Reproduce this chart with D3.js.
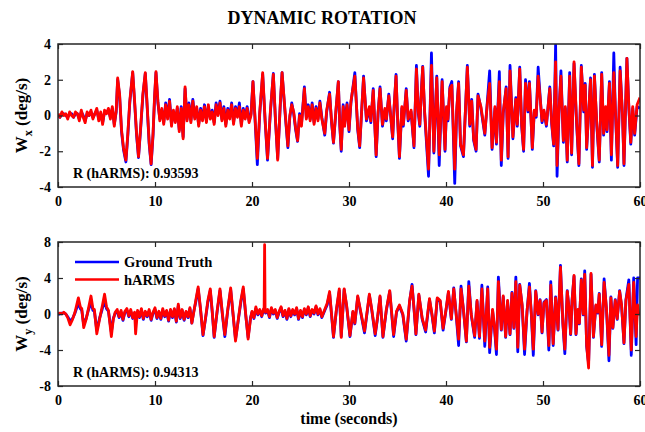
<!DOCTYPE html>
<html>
<head>
<meta charset="utf-8">
<script src="https://cdn.jsdelivr.net/npm/d3@7"></script>
<style>
  body { margin: 0; background: #fff; }
  text { font-family: "Liberation Serif", "Times New Roman", serif; font-weight: bold; fill: #000; }
</style>
</head>
<body>
<script>
// ---- Wx (top panel), seconds / deg/s ----
var wxTime = [
  0,0.2,0.4,0.6,0.8,1.0,1.2,1.4,1.6,1.8, 2.0,2.2,2.4,2.6,2.8,3.0,3.2,3.4,3.6,3.8, 4.0,4.2,4.4,4.6,4.8,5.0,5.2,5.4,5.6,5.8,
  6.0,6.15,6.35,6.55,6.75,7.0,7.2,7.4,7.7,7.9, 8.1,8.3,8.5,8.75,9.0,9.2,9.4,9.6,9.8,9.95, 10.1,10.3,10.5,
  10.7,10.9,11.1,11.3,11.5,11.7,11.9,12.1,12.3,12.5, 12.7,12.9,13.1,13.3,13.5,13.7,13.9,14.1,14.3,14.5,
  14.7,14.9,15.1,15.3,15.5,15.7,15.9,16.1,16.3,16.5, 16.7,16.9,17.1,17.3,17.5,17.7,17.9,18.1,18.3,18.5,
  18.7,18.9,19.1,19.3,19.5,19.7,19.9,
  20.1,20.3,20.55,20.8,21.1,21.35,21.6,21.9,22.2,22.4, 22.65,22.9,23.1,23.4,23.7,23.9,24.1,24.3,24.5,24.7,
  24.9,25.1,25.4,25.6,25.8,26.0,26.2,26.4,26.6,26.8, 27.0,27.2,27.5,27.7,28.0,28.2,28.4,28.65,28.9,29.05,
  29.2,29.4,29.55,29.8,
  30.0,30.2,30.6,30.9,31.1,31.5,31.8,32.1,32.25,32.5, 32.8,33.0,33.2,33.45,33.7,33.85,34.1,34.5,34.65,34.85,
  35.0,35.2,35.45,35.6,35.9,36.1,36.4,36.7,36.95,37.15, 37.3,37.45,37.6,37.8,38.2,38.5,38.75,38.85,39.05,39.3,
  39.6,39.9,40.05,40.2,40.4,40.6,40.9,41.1,41.3,41.5, 41.8,42.2,42.45,42.65,42.85,43.1,43.3,43.6,
  44.0,44.25,44.5,44.75,45.05,45.2,45.5,45.7,45.9,46.2, 46.4,46.6,46.9,47.2,47.35,47.6,47.8,48.0,48.2,48.45,
  48.6,48.9,49.1,49.3,49.5,49.7,49.9,50.1,50.35,50.7, 50.9,51.1,51.3,51.45,51.65,51.85,52.1,52.3,52.5,52.75,
  52.95,53.2,53.45,53.7,53.95,54.2,54.35,54.5,54.9,55.1, 55.3,55.55,55.8,56.05,56.25,56.45,56.6,56.85,57.05,57.3,
  57.45,57.7,57.95,58.2,58.35,58.65,58.85,59.05,59.25,59.45, 59.7,60.0
];
var wxTruth = [
  0.0,-0.1,0.1,0.1,0.0,-0.1,0.1,0.1,-0.1,0.1, 0.1,-0.2,0.2,0.0,-0.3,0.1,0.0,0.2,-0.1,0.1, 0.3,-0.2,0.1,-0.4,0.2,0.2,0.3,-0.1,0.4,-0.5,
  0.2,2.0,1.1,-0.9,-1.9,-2.6,-1.1,0.7,2.4,0.7, -1.1,-2.35,-0.9,1.1,2.35,0.4,-1.6,-2.75,-1.1,0.9, 2.4,0.7,-0.2,
  0.3,-0.4,0.7,-0.1,0.9,-0.5,0.2,-0.3,0.4,-0.8, 0.5,-1.2,1.5,-0.2,0.7,-0.3,0.9,-0.1,0.4,-0.5,
  0.4,-0.2,0.6,-0.3,0.5,-0.1,0.3,-0.4,0.7,0.1, 0.8,-0.2,0.5,-0.5,0.4,-0.1,0.7,-0.4,0.5,0.0,
  0.7,-0.5,0.4,-0.1,0.5,-0.3,0.1,
  1.9,-0.1,-2.75,0.1,2.3,-0.3,-2.5,0.2,2.35,-0.1, -2.4,0.4,2.4,0.2,-1.8,-0.1,0.7,0.1,-0.8,-1.45,
  0.1,-0.5,1.6,-0.1,0.6,-0.2,0.7,-0.4,0.5,-0.2, 0.8,-0.1,-1.1,0.2,1.3,-0.4,-1.55,0.2,1.9,-0.6,
  -2.0,0.6,-0.5,0.7,
  -0.9,0.7,2.4,-0.8,-1.8,2.2,-0.3,0.4,-0.4,1.5, -2.3,0.1,1.6,-0.6,0.3,-0.3,1.2,-1.3,0.4,2.3,
  -0.1,-2.4,0.4,-0.6,1.5,-0.3,0.2,-1.8,2.8,0.1, -0.6,1.3,2.75,0.1,-3.4,3.5,-2.1,-0.6,2.2,-2.8,
  2.0,-2.0,0.4,-0.3,1.6,1.9,-3.8,0.2,1.9,-1.7, -2.3,2.8,-0.6,0.9,-1.4,-2.0,1.2,0.4,
  -1.1,0.7,2.5,-1.9,0.4,-1.6,2.45,-2.8,0.1,1.6, -2.4,2.8,-1.3,1.0,-0.6,2.7,-0.6,-2.0,2.0,0.2,
  1.9,-1.9,0.2,-0.1,2.7,1.1,-0.4,0.2,-0.6,1.6, -0.5,-1.7,3.95,-3.4,0.2,2.5,-1.5,0.4,-2.6,2.4,
  -2.2,2.9,-0.3,-2.8,2.8,0.2,1.8,-1.9,2.1,-2.9, 2.3,-0.6,-2.6,2.4,-1.1,0.4,-0.9,1.9,-2.5,3.5,
  0.4,-2.9,2.7,-0.1,-2.8,3.2,0.4,-1.6,0.4,-1.1, 0.5,0.4
];
var wxHarms = [
  0.1,-0.1,0.2,0.0,0.1,-0.2,0.2,0.0,-0.1,0.2, 0.1,-0.3,0.3,-0.1,-0.4,0.2,0.0,0.3,-0.2,0.1, 0.4,-0.3,0.2,-0.5,0.3,0.1,0.4,-0.2,0.5,-0.6,
  0.3,2.1,1.2,-0.8,-1.8,-2.5,-1.0,0.8,2.45,0.8, -1.0,-2.3,-0.8,1.2,2.4,0.5,-1.5,-2.7,-1.0,1.0, 2.45,0.8,-0.3,
  0.4,-0.5,0.6,-0.2,0.8,-0.6,0.3,-0.4,0.5,-0.9, 0.4,-1.3,1.6,-0.3,0.6,-0.4,0.8,-0.2,0.5,-0.6,
  0.3,-0.3,0.5,-0.4,0.6,-0.2,0.2,-0.5,0.6,0.0, 0.7,-0.3,0.4,-0.6,0.3,-0.2,0.6,-0.5,0.4,-0.1,
  0.5,-0.6,0.3,-0.2,0.4,-0.4,0.0,
  1.9,0.0,-2.4,0.2,2.4,-0.2,-2.4,0.3,2.3,0.0, -2.5,0.5,2.4,0.3,-1.7,0.0,0.6,0.2,-0.7,-1.4,
  0.0,-0.6,1.5,-0.2,0.5,-0.3,0.6,-0.5,0.4,-0.3, 0.7,-0.2,-1.0,0.3,1.2,-0.3,-1.5,0.3,1.9,-0.5,
  -1.9,0.5,-0.6,0.6,
  -0.8,0.8,2.2,-0.7,-1.7,2.1,-0.2,0.5,-0.3,1.4, -2.2,0.2,1.5,-0.5,0.4,-0.2,1.1,-1.2,0.5,2.2,
  0.0,-2.3,0.5,-0.5,1.4,-0.2,0.3,-1.7,2.6,0.2, -0.5,1.2,2.7,0.2,-3.0,2.8,-2.0,-0.5,2.1,-2.2,
  1.9,-1.9,0.5,-0.2,1.5,1.7,-3.0,0.3,1.8,-1.6, -2.2,2.7,-0.5,0.8,-1.3,-1.9,1.1,0.5,
  -1.0,0.6,1.8,-1.8,0.5,-1.5,1.9,-2.5,0.2,1.5, -2.3,2.5,-1.2,0.9,-0.5,2.6,-0.5,-1.9,1.8,0.3,
  1.8,-1.8,0.3,0.0,2.2,1.0,-0.3,0.3,-0.5,1.5, -0.4,-1.6,3.0,-2.8,0.3,2.2,-1.4,0.5,-2.5,2.2,
  -2.1,3.0,-0.2,-2.7,2.7,0.3,1.7,-1.8,2.0,-2.8, 2.2,-0.5,-2.5,2.3,-1.0,0.5,-0.8,1.8,-2.2,2.4,
  0.5,-2.8,2.5,0.0,-2.7,3.2,0.5,-1.5,0.5,-1.0, 0.6,1.0
];

// ---- Wy (bottom panel) ----
var wyTime = [
  0,0.2,0.4,0.6,0.8,1.0,1.25,1.5,1.75,2.1, 2.3,2.45,2.65,2.9,3.1,3.4,3.6,3.75,4.0,4.3, 4.55,4.8,5.0,5.2,5.5,5.7,5.9,
  6.1,6.3,6.5,6.7,6.9,7.1,7.3,7.5,7.7,7.9, 8.0,8.2,8.4,8.6,8.8,9.0,9.2,9.4,9.6,9.8,
  10.0,10.2,10.4,10.6,10.8,11.0,11.2,11.4,11.6,11.8, 12.0,12.2,12.4,12.6,12.8,13.0,13.2,13.4,13.6,13.8, 14.0,
  14.2,14.45,14.7,14.95,15.2,15.45,15.7,15.9,16.1,16.4, 16.7,16.95,17.2,17.5,17.8,18.05,18.3,18.6,18.85,19.1,
  19.35,19.6,19.85,
  20.0,20.2,20.4,20.6,20.8,21.0,21.2,21.25,21.3,21.35, 21.4,21.6,21.8,22.0,22.2,22.4,22.6,22.8,23.0,23.2,
  23.4,23.6,23.8,24.0,24.2,24.4,24.6,24.8,25.0,25.2, 25.4,25.6,25.8,26.0,26.2,26.4,26.6,26.8,27.0,27.2,
  27.5,27.75,28.0,28.2,28.4,28.7,29.0,29.2,29.5,29.75, 30.1,30.4,30.6,30.9,31.2,31.6,32.1,32.35,32.7,32.95,
  33.2,33.5,33.85,34.2,34.6,34.9,35.2,35.55,35.9,36.25, 36.5,36.75,36.9,37.2,37.55,37.9,38.3,38.55,38.8,39.1,
  39.4,39.7,40.0,40.25,40.55,40.8,41.05,41.3,41.55,41.8, 42.1,42.35,42.6,42.95,43.2,43.45,43.7,
  44.0,44.3,44.5,44.8,45.0,45.2,45.4,45.7,45.9,46.15, 46.35,46.6,46.8,47.0,47.2,47.4,47.6,47.85,48.1,48.35,
  48.6,48.8,49.0,49.25,49.5,49.7,49.9,50.1,50.35,50.6, 50.8,51.05,51.3,51.55,51.8,52.05,52.25,52.5,52.7,52.85,
  53.0,53.2,53.4,53.6,53.75,53.95,54.15,54.3,54.5,54.7, 54.95,55.2,55.45,55.65,55.8,56.05,56.3,56.55,56.8,57.0,
  57.2,57.45,57.65,57.9,58.1,58.35,58.55,58.85,59.1,59.35, 59.6,59.75,59.85,60.0
];
var wyTruth = [
  0.0,0.0,0.1,0.1,0.0,-0.3,-0.8,-0.5,0.1,1.2, 0.6,0.4,-1.2,-0.5,0.3,1.3,0.4,0.3,-1.8,-0.4, 0.5,1.5,0.6,0.3,-2.0,-0.5,0.1,
  0.3,-0.4,0.2,-0.7,0.2,0.4,-0.3,0.3,-0.5,0.1, -0.6,0.2,-0.4,0.4,-0.6,0.2,-0.3,0.3,-0.7,0.1,
  0.5,-0.5,0.2,-0.6,0.4,-0.3,0.3,-0.8,0.4,-0.4, 0.5,-0.9,0.9,-0.5,0.4,-0.7,0.2,-0.4,0.6,-1.0, 0.3,
  1.3,2.8,0.4,-2.4,-0.6,1.3,2.6,0.2,-2.6,0.2, 2.6,-0.1,-2.5,0.4,2.7,-0.1,-2.8,-0.6,1.3,2.8,
  -0.1,-2.6,-0.4,
  0.2,-0.5,0.6,-0.1,0.4,-0.3,0.5,0.4,0.4,0.3, 0.1,0.4,-0.4,0.6,0.0,0.4,-0.5,0.2,0.7,-0.3,
  0.3,-0.6,0.5,-0.3,0.4,-0.1,0.6,-0.6,0.3,-0.4, 0.5,-0.1,0.7,-0.3,0.4,0.0,0.8,-0.1,0.5,-0.4,
  0.4,1.0,2.3,-0.1,-2.6,0.4,2.6,-2.5,2.7,0.9, -2.5,0.2,-1.1,1.9,0.2,-2.1,2.1,0.4,-2.4,-0.4,
  1.9,-2.6,0.4,2.5,-2.5,0.2,0.9,-0.1,-3.0,1.4, 3.3,-0.1,-2.3,2.1,-0.6,-2.0,1.6,-0.1,-2.1,1.7,
  1.4,-1.8,0.4,2.4,-0.6,2.9,-0.1,-3.5,3.1,0.4, -3.1,3.6,-0.1,-2.6,1.4,-2.7,3.2,
  -3.6,3.0,-4.3,0.4,-1.6,-4.5,4.1,-1.8,1.9,-2.6, 1.4,-2.3,2.4,-1.6,4.1,-4.2,3.3,0.9,-4.5,0.2,
  3.4,-0.1,-4.6,2.6,-0.1,1.6,-2.1,1.3,1.6,-4.0, 3.6,-3.5,1.9,-1.8,5.4,-1.1,-4.4,2.6,0.4,-2.3,
  1.6,4.2,-2.3,0.4,-1.1,3.9,-0.1,4.8,-3.6,-5.5, 4.4,-2.6,0.9,0.1,2.3,-3.6,3.9,0.4,-5.2,1.9,
  -1.6,1.6,-0.6,2.6,0.9,-3.3,1.6,3.8,-4.6,4.0, -3.4,4.0,4.0,4.0
];
var wyHarms = [
  0.0,0.1,0.0,0.2,0.0,-0.4,-1.2,-0.6,0.2,1.8, 0.8,0.6,-1.5,-0.6,0.4,2.0,0.6,0.5,-2.2,-0.5, 0.8,2.2,0.8,0.4,-2.5,-0.6,0.2,
  0.5,-0.3,0.4,-0.6,0.3,0.6,-0.2,0.5,-0.4,0.2, -2.2,0.4,-0.3,0.6,-0.5,0.3,-0.2,0.5,-0.6,0.2,
  0.7,-0.4,0.3,-0.5,0.6,-0.2,0.4,-0.7,0.5,-0.3, 0.6,-0.8,1.1,-0.4,0.5,-0.6,0.3,-0.3,0.7,-1.0, 0.2,
  1.5,3.0,0.5,-2.3,-0.5,1.5,2.8,0.3,-2.5,0.3, 2.8,0.0,-2.3,0.5,2.9,0.0,-3.0,-0.5,1.5,3.0,
  0.0,-2.8,-0.5,
  0.3,-0.4,0.8,0.0,0.5,-0.2,0.6,0.4,7.7,0.3, 0.2,0.5,-0.3,0.7,0.1,0.5,-0.4,0.3,0.8,-0.2,
  0.4,-0.5,0.6,-0.2,0.5,0.0,0.7,-0.5,0.4,-0.3, 0.6,0.0,0.8,-0.2,0.5,0.1,0.9,0.0,0.6,-0.3,
  0.5,1.2,2.5,0.0,-2.5,0.5,2.8,-2.6,2.8,1.0, -2.4,0.3,-1.0,2.0,0.3,-1.9,2.2,0.5,-2.2,-0.3,
  2.0,-2.5,0.5,2.6,-2.3,0.3,1.0,0.0,-2.8,1.5, 3.1,0.0,-2.2,2.2,-0.5,-1.8,1.7,0.0,-1.9,1.8,
  1.5,-1.6,0.5,2.5,-0.5,2.8,0.0,-2.8,2.8,0.5, -3.0,3.1,0.0,-2.4,1.5,-2.5,2.8,
  -3.0,2.8,-3.7,0.5,-1.5,-3.9,3.6,-1.7,2.0,-2.5, 1.5,-2.2,2.3,-1.5,3.6,-3.7,3.2,1.0,-3.9,0.3,
  3.0,0.0,-3.9,2.5,0.0,1.5,-2.0,1.2,1.5,-3.5, 3.2,-3.3,1.8,-1.7,5.2,-1.0,-3.9,2.5,0.5,-2.2,
  1.5,4.3,-2.2,0.5,-1.0,3.8,0.0,4.4,-3.5,-6.0, 4.5,-2.5,1.0,0.2,2.2,-3.4,3.5,0.5,-4.6,1.8,
  -1.5,1.5,-0.5,2.5,1.0,-3.2,1.5,3.3,-4.0,3.5, -2.5,1.0,0.0,0.0
];

var xTicks = [0, 10, 20, 30, 40, 50, 60];
var wxTicks = [-4, -2, 0, 2, 4];
var wyTicks = [-8, -4, 0, 4, 8];

var width = 645, height = 432;
var axisColor = "#262626";

var svg = d3.select("body").append("svg")
    .attr("width", width)
    .attr("height", height);

var x = d3.scaleLinear().domain([0, 60]).range([58, 640]);

var panels = [
  {id: "wx", time: wxTime, truth: wxTruth, harms: wxHarms, ticks: wxTicks,
   y: d3.scaleLinear().domain([-4, 4]).range([187, 44]), sub: "x", r: "R (hARMS): 0.93593"},
  {id: "wy", time: wyTime, truth: wyTruth, harms: wyHarms, ticks: wyTicks,
   y: d3.scaleLinear().domain([-8, 8]).range([386, 242]), sub: "y", r: "R (hARMS): 0.94313"}
];

function fmt(d) { return String(d); }

panels.forEach(function(p) {
    var y = p.y;
    var top = y.range()[1], bottom = y.range()[0];
    var left = x.range()[0], right = x.range()[1];

    svg.append("clipPath").attr("id", "clip-" + p.id)
        .append("rect")
        .attr("x", left).attr("y", top)
        .attr("width", right - left).attr("height", bottom - top);

    var line = d3.line()
        .x(function(d, i) { return x(p.time[i]); })
        .y(function(d) { return y(d); });

    var plot = svg.append("g").attr("clip-path", "url(#clip-" + p.id + ")");
    plot.append("path")
        .attr("d", line(p.truth))
        .attr("fill", "none")
        .attr("stroke", "#0000ff")
        .attr("stroke-width", 2.8)
        .attr("stroke-linejoin", "round");
    plot.append("path")
        .attr("d", line(p.harms))
        .attr("fill", "none")
        .attr("stroke", "#ff0000")
        .attr("stroke-width", 2.8)
        .attr("stroke-linejoin", "round");

    // axes, ticks pointing inward like matlab
    var gb = svg.append("g").attr("transform", "translate(0," + bottom + ")")
        .call(d3.axisBottom(x).tickValues(xTicks).tickFormat(fmt).tickSizeInner(-5).tickSizeOuter(0).tickPadding(9));
    var gt = svg.append("g").attr("transform", "translate(0," + top + ")")
        .call(d3.axisTop(x).tickValues(xTicks).tickFormat("").tickSizeInner(-5).tickSizeOuter(0));
    var gl = svg.append("g").attr("transform", "translate(" + left + ",0)")
        .call(d3.axisLeft(y).tickValues(p.ticks).tickFormat(fmt).tickSizeInner(-5).tickSizeOuter(0).tickPadding(7));
    var gr = svg.append("g").attr("transform", "translate(" + right + ",0)")
        .call(d3.axisRight(y).tickValues(p.ticks).tickFormat("").tickSizeInner(-5).tickSizeOuter(0));

    [gb, gt, gl, gr].forEach(function(g) {
        g.select(".domain").remove();
        g.selectAll(".tick line").attr("stroke", axisColor).attr("stroke-width", 1.2);
        g.selectAll(".tick text")
            .style("font-family", "'Liberation Serif', 'Times New Roman', serif")
            .style("font-weight", "bold")
            .style("font-size", "14px")
            .attr("fill", "#000");
    });

    svg.append("rect")
        .attr("x", left).attr("y", top)
        .attr("width", right - left).attr("height", bottom - top)
        .attr("fill", "none")
        .attr("stroke", axisColor)
        .attr("stroke-width", 1.5);

    // y label  W_x (deg/s)
    var yl = svg.append("text")
        .attr("transform", "translate(27," + ((top + bottom) / 2) + ") rotate(-90)")
        .attr("text-anchor", "middle")
        .style("font-size", "17px");
    yl.append("tspan").text("W");
    yl.append("tspan").attr("dy", 5).style("font-size", "12px").text(p.sub);
    yl.append("tspan").attr("dy", -5).text(" (deg/s)");

    svg.append("text")
        .attr("x", 73)
        .attr("y", bottom - 9)
        .style("font-size", "14px")
        .text(p.r);
});

// legend in lower panel
var legend = [
  {name: "Ground Truth", color: "#0000ff"},
  {name: "hARMS", color: "#ff0000"}
];
var lg = svg.append("g");
legend.forEach(function(d, i) {
    var ly = 262 + i * 17.5;
    lg.append("line")
        .attr("x1", 75).attr("x2", 119)
        .attr("y1", ly).attr("y2", ly)
        .attr("stroke", d.color)
        .attr("stroke-width", 2.4);
    lg.append("text")
        .attr("x", 124)
        .attr("y", ly)
        .attr("dy", "0.35em")
        .style("font-size", "14.5px")
        .text(d.name);
});

svg.append("text")
    .attr("x", 349)
    .attr("y", 424)
    .attr("text-anchor", "middle")
    .style("font-size", "16px")
    .text("time (seconds)");

svg.append("text")
    .attr("x", 322)
    .attr("y", 24)
    .attr("text-anchor", "middle")
    .style("font-size", "18px")
    .text("DYNAMIC ROTATION");
</script>
</body>
</html>
